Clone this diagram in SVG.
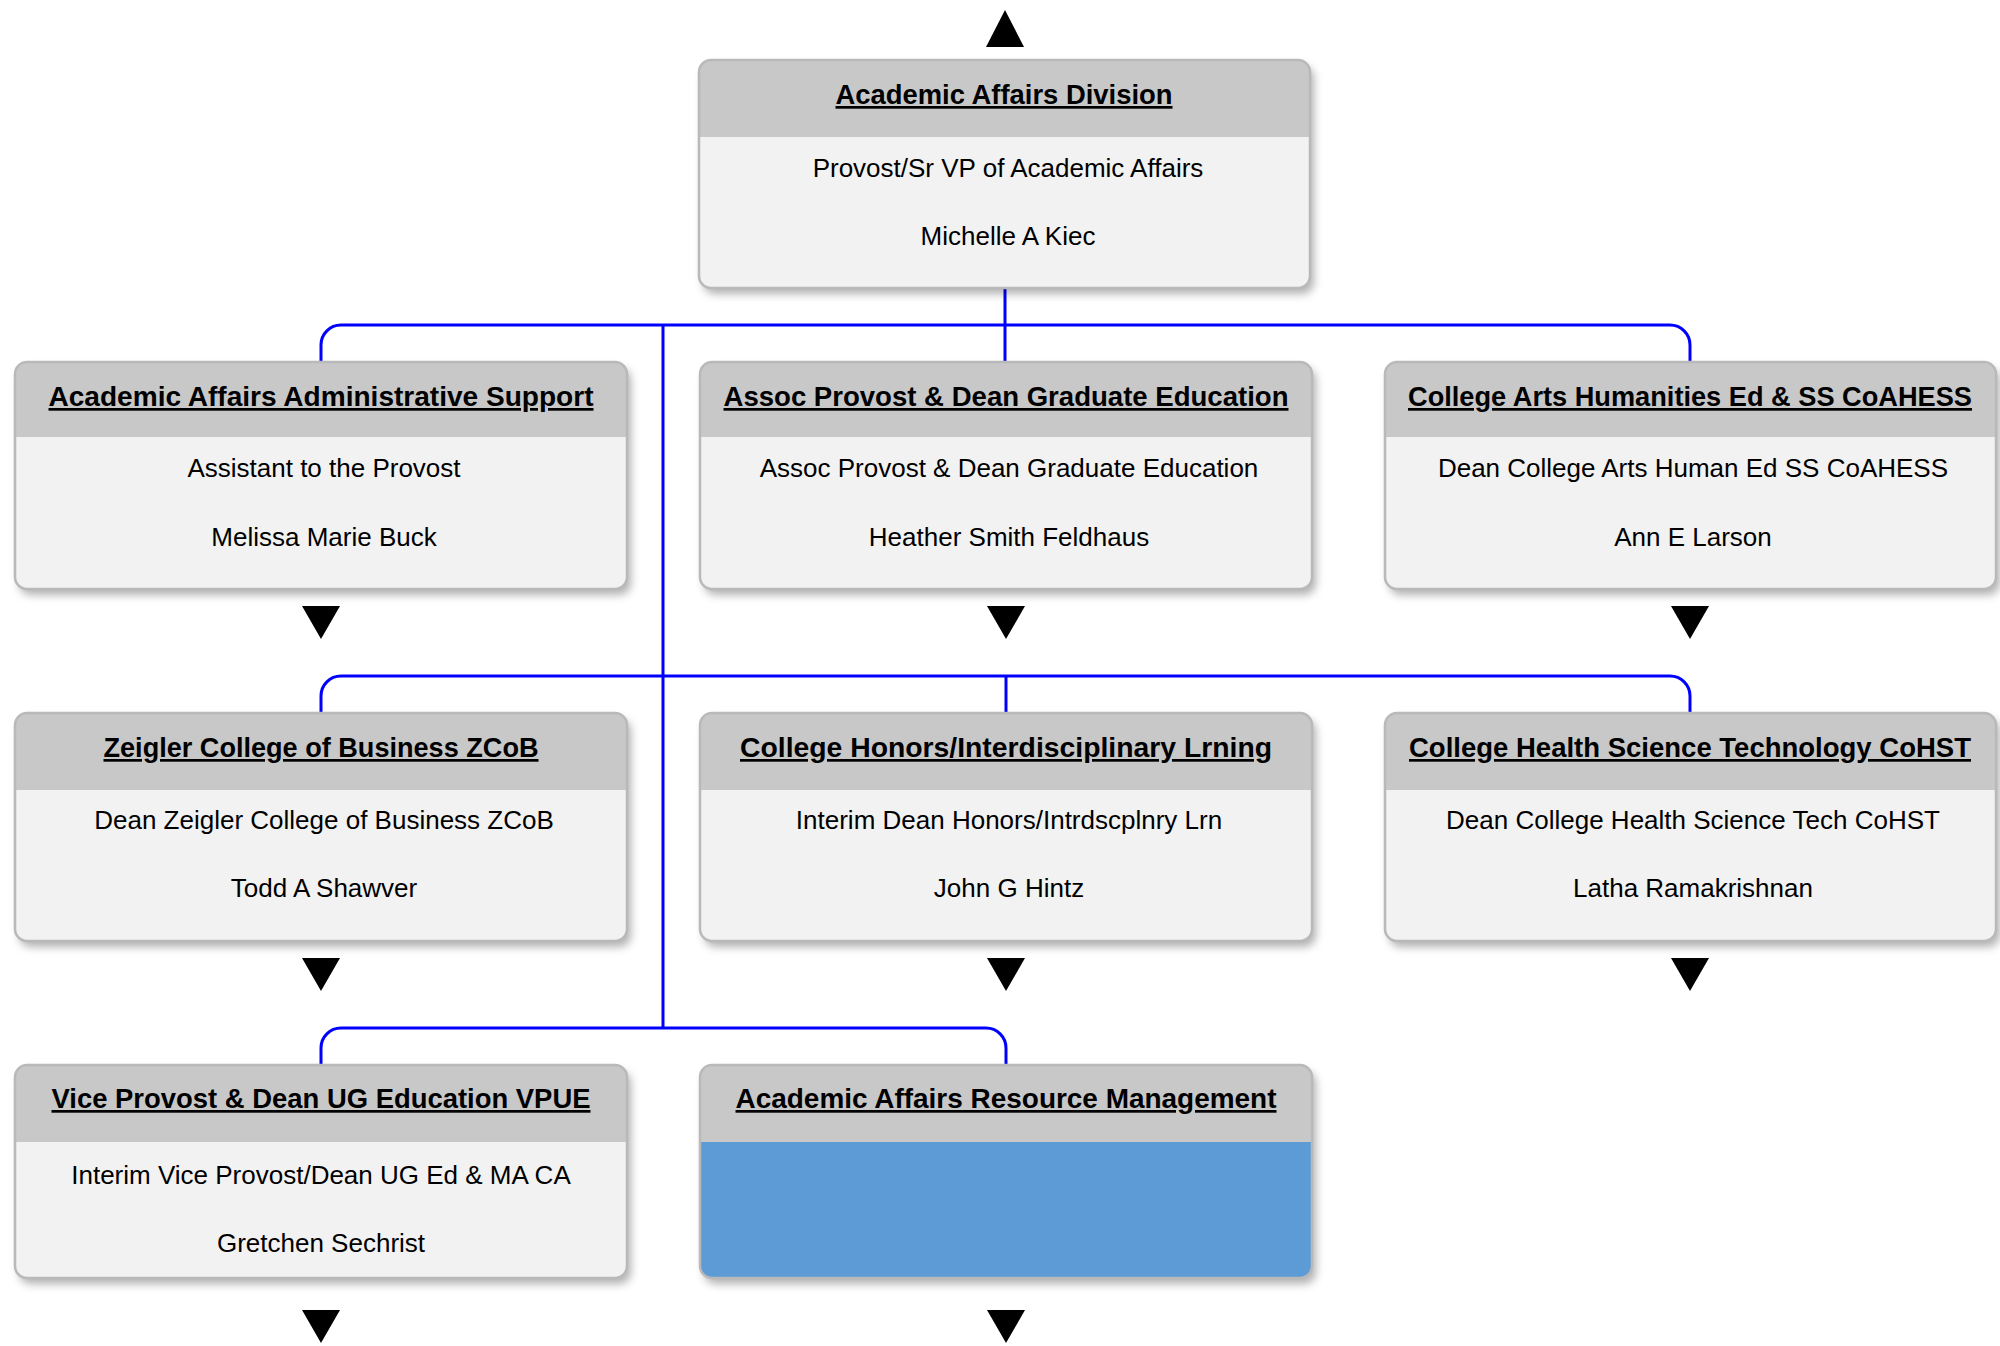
<svg xmlns="http://www.w3.org/2000/svg" width="2000" height="1346" viewBox="0 0 2000 1346">
<defs>
<style>
.body{fill:#F2F2F2}
.hdr{fill:#C8C8C8}
.blue{fill:#5B9BD5}
.frame{fill:none;stroke:#B9B9B9;stroke-width:2.5}
.title{font-family:"Liberation Sans",Arial,sans-serif;font-weight:bold;font-size:27px;text-anchor:middle;fill:#000;text-decoration:underline}
.txt{font-family:"Liberation Sans",Arial,sans-serif;font-size:26px;text-anchor:middle;fill:#000}
.conn{fill:none;stroke:#0000FF;stroke-width:3}
.arr{fill:#000}
</style>
<filter id="sh" x="-5%" y="-5%" width="112%" height="120%">
<feDropShadow dx="4" dy="6" stdDeviation="4" flood-color="#000" flood-opacity="0.3"/>
</filter>
</defs>
<rect width="2000" height="1346" fill="#FFFFFF"/>

<g id="connectors">
<path class="conn" d="M1005,288 V362"/>
<path class="conn" d="M321,362 V345 A20,20 0 0 1 341,325 H1670 A20,20 0 0 1 1690,345 V362"/>
<path class="conn" d="M663,325 V1028"/>
<path class="conn" d="M321,713 V696 A20,20 0 0 1 341,676 H1670 A20,20 0 0 1 1690,696 V713"/>
<path class="conn" d="M1006,676 V713"/>
<path class="conn" d="M321,1065 V1048 A20,20 0 0 1 341,1028 H986 A20,20 0 0 1 1006,1048 V1065"/>
</g>

<g id="arrows">
<polygon class="arr" points="986,47 1024,47 1005,10"/>
<polygon class="arr" points="302,606 340,606 321,639"/>
<polygon class="arr" points="987,606 1025,606 1006,639"/>
<polygon class="arr" points="1671,606 1709,606 1690,639"/>
<polygon class="arr" points="302,958 340,958 321,991"/>
<polygon class="arr" points="987,958 1025,958 1006,991"/>
<polygon class="arr" points="1671,958 1709,958 1690,991"/>
<polygon class="arr" points="302,1310 340,1310 321,1343"/>
<polygon class="arr" points="987,1310 1025,1310 1006,1343"/>
</g>

<g id="node-division">
<rect class="body" x="699" y="60" width="611" height="228" rx="12" filter="url(#sh)"/>
<path class="hdr" d="M699,137 V72 A12,12 0 0 1 711,60 H1298 A12,12 0 0 1 1310,72 V137 Z"/>
<rect class="frame" x="699" y="60" width="611" height="228" rx="12"/>
<text class="title" x="1004" y="104" textLength="337" lengthAdjust="spacingAndGlyphs">Academic Affairs Division</text>
<text class="txt" x="1008" y="177">Provost/Sr VP of Academic Affairs</text>
<text class="txt" x="1008" y="245">Michelle A Kiec</text>
</g>

<g id="node-admin-support">
<rect class="body" x="15" y="362" width="612" height="227" rx="12" filter="url(#sh)"/>
<path class="hdr" d="M15,437 V374 A12,12 0 0 1 27,362 H615 A12,12 0 0 1 627,374 V437 Z"/>
<rect class="frame" x="15" y="362" width="612" height="227" rx="12"/>
<text class="title" x="321" y="406" textLength="545" lengthAdjust="spacingAndGlyphs">Academic Affairs Administrative Support</text>
<text class="txt" x="324" y="477">Assistant to the Provost</text>
<text class="txt" x="324" y="546">Melissa Marie Buck</text>
</g>

<g id="node-grad-ed">
<rect class="body" x="700" y="362" width="612" height="227" rx="12" filter="url(#sh)"/>
<path class="hdr" d="M700,437 V374 A12,12 0 0 1 712,362 H1300 A12,12 0 0 1 1312,374 V437 Z"/>
<rect class="frame" x="700" y="362" width="612" height="227" rx="12"/>
<text class="title" x="1006" y="406" textLength="565" lengthAdjust="spacingAndGlyphs">Assoc Provost &amp; Dean Graduate Education</text>
<text class="txt" x="1009" y="477">Assoc Provost &amp; Dean Graduate Education</text>
<text class="txt" x="1009" y="546">Heather Smith Feldhaus</text>
</g>

<g id="node-coahess">
<rect class="body" x="1385" y="362" width="611" height="227" rx="12" filter="url(#sh)"/>
<path class="hdr" d="M1385,437 V374 A12,12 0 0 1 1397,362 H1984 A12,12 0 0 1 1996,374 V437 Z"/>
<rect class="frame" x="1385" y="362" width="611" height="227" rx="12"/>
<text class="title" x="1690" y="406" textLength="564" lengthAdjust="spacingAndGlyphs">College Arts Humanities Ed &amp; SS CoAHESS</text>
<text class="txt" x="1693" y="477">Dean College Arts Human Ed SS CoAHESS</text>
<text class="txt" x="1693" y="546">Ann E Larson</text>
</g>

<g id="node-zcob">
<rect class="body" x="15" y="713" width="612" height="228" rx="12" filter="url(#sh)"/>
<path class="hdr" d="M15,790 V725 A12,12 0 0 1 27,713 H615 A12,12 0 0 1 627,725 V790 Z"/>
<rect class="frame" x="15" y="713" width="612" height="228" rx="12"/>
<text class="title" x="321" y="757" textLength="435" lengthAdjust="spacingAndGlyphs">Zeigler College of Business ZCoB</text>
<text class="txt" x="324" y="829">Dean Zeigler College of Business ZCoB</text>
<text class="txt" x="324" y="897">Todd A Shawver</text>
</g>

<g id="node-honors">
<rect class="body" x="700" y="713" width="612" height="228" rx="12" filter="url(#sh)"/>
<path class="hdr" d="M700,790 V725 A12,12 0 0 1 712,713 H1300 A12,12 0 0 1 1312,725 V790 Z"/>
<rect class="frame" x="700" y="713" width="612" height="228" rx="12"/>
<text class="title" x="1006" y="757" textLength="532" lengthAdjust="spacingAndGlyphs">College Honors/Interdisciplinary Lrning</text>
<text class="txt" x="1009" y="829">Interim Dean Honors/Intrdscplnry Lrn</text>
<text class="txt" x="1009" y="897">John G Hintz</text>
</g>

<g id="node-cohst">
<rect class="body" x="1385" y="713" width="611" height="228" rx="12" filter="url(#sh)"/>
<path class="hdr" d="M1385,790 V725 A12,12 0 0 1 1397,713 H1984 A12,12 0 0 1 1996,725 V790 Z"/>
<rect class="frame" x="1385" y="713" width="611" height="228" rx="12"/>
<text class="title" x="1690" y="757" textLength="562" lengthAdjust="spacingAndGlyphs">College Health Science Technology CoHST</text>
<text class="txt" x="1693" y="829">Dean College Health Science Tech CoHST</text>
<text class="txt" x="1693" y="897">Latha Ramakrishnan</text>
</g>

<g id="node-vpue">
<rect class="body" x="15" y="1065" width="612" height="213" rx="12" filter="url(#sh)"/>
<path class="hdr" d="M15,1142 V1077 A12,12 0 0 1 27,1065 H615 A12,12 0 0 1 627,1077 V1142 Z"/>
<rect class="frame" x="15" y="1065" width="612" height="213" rx="12"/>
<text class="title" x="321" y="1108" textLength="539" lengthAdjust="spacingAndGlyphs">Vice Provost &amp; Dean UG Education VPUE</text>
<text class="txt" x="321" y="1184">Interim Vice Provost/Dean UG Ed &amp; MA CA</text>
<text class="txt" x="321" y="1252">Gretchen Sechrist</text>
</g>

<g id="node-resource-mgmt">
<rect class="blue" x="700" y="1065" width="612" height="213" rx="12" filter="url(#sh)"/>
<path class="hdr" d="M700,1142 V1077 A12,12 0 0 1 712,1065 H1300 A12,12 0 0 1 1312,1077 V1142 Z"/>
<rect class="frame" x="700" y="1065" width="612" height="213" rx="12"/>
<text class="title" x="1006" y="1108" textLength="541" lengthAdjust="spacingAndGlyphs">Academic Affairs Resource Management</text>
</g>
</svg>
